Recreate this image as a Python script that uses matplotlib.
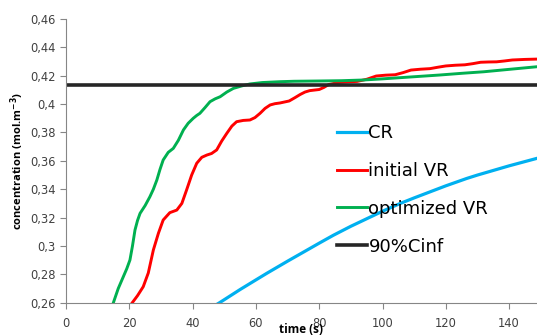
import numpy as np
import matplotlib.pyplot as plt
from matplotlib.ticker import FuncFormatter, MultipleLocator

# time (s) and concentration (mol.m-3) for each reactor
t_cr = [40, 48.5, 55, 60, 63.4, 70, 80, 84.5, 90, 100, 105.5, 110, 120, 126.6, 130, 140, 150]
c_cr = [0.2485, 0.2600, 0.2693, 0.2761, 0.2807, 0.2893, 0.3020, 0.3076, 0.3139, 0.3245,
        0.3299, 0.3339, 0.3424, 0.3476, 0.3500, 0.3565, 0.3625]

t_init = [19, 20.8, 22.6, 24.4, 26.0, 27.6, 29.2, 30.7, 32.8, 35.0, 36.6, 38.1, 39.7, 41.3,
          42.9, 44.5, 46.0, 47.6, 49.2, 50.8, 52.4, 53.9, 56.0, 58.1, 59.7, 61.3, 62.9, 64.5,
          66.0, 67.6, 70.5, 72.3, 74.0, 75.5, 77.0, 80.0, 81.5, 83.0, 86.0, 89.0, 92.0, 95.0,
          98.0, 101.0, 104.0, 106.5, 109.0, 112.0, 115.0, 117.5, 120.0, 123.0, 126.0, 128.5,
          131.0, 133.5, 136.0, 138.5, 141.0, 145.0, 150.0]
c_init = [0.2530, 0.2596, 0.2650, 0.2713, 0.2810, 0.2972, 0.3090, 0.3183, 0.3235, 0.3253,
          0.3300, 0.3395, 0.3500, 0.3583, 0.3625, 0.3641, 0.3652, 0.3677, 0.3740, 0.3794,
          0.3845, 0.3876, 0.3885, 0.3888, 0.3905, 0.3935, 0.3970, 0.3994, 0.4003, 0.4008,
          0.4022, 0.4045, 0.4068, 0.4085, 0.4095, 0.4103, 0.4118, 0.4138, 0.4152, 0.4157,
          0.4160, 0.4175, 0.4198, 0.4204, 0.4207, 0.4222, 0.4240, 0.4246, 0.4250, 0.4260,
          0.4269, 0.4274, 0.4277, 0.4285, 0.4295, 0.4297, 0.4298, 0.4304, 0.4311, 0.4315,
          0.4318]

t_opt = [13.5, 14.9, 16.5, 18.1, 19.2, 20.2, 21.0, 21.8, 22.6, 23.4, 25.0, 26.5, 27.6, 28.7,
         29.7, 30.7, 32.3, 33.9, 35.5, 37.1, 38.6, 40.2, 41.3, 42.3, 43.9, 45.5, 47.1, 48.7,
         50.8, 52.9, 55.5, 58.1, 62.0, 67.6, 72.0, 80.0, 87.0, 94.0, 100.0, 110.0, 118.0,
         125.0, 132.0, 140.0, 150.0]
c_opt = [0.2500, 0.2596, 0.2700, 0.2783, 0.2840, 0.2901, 0.3000, 0.3113, 0.3180, 0.3230,
         0.3285, 0.3347, 0.3400, 0.3465, 0.3540, 0.3606, 0.3660, 0.3688, 0.3745, 0.3818,
         0.3865, 0.3900, 0.3920, 0.3935, 0.3975, 0.4017, 0.4037, 0.4052, 0.4085, 0.4111,
         0.4128, 0.4142, 0.4152, 0.4158, 0.4161, 0.4163, 0.4165, 0.4170, 0.4178, 0.4193,
         0.4205, 0.4217, 0.4228, 0.4245, 0.4266]

t_lim = [0, 150]
c_lim = [0.4135, 0.4135]

plt.rcParams['font.family'] = ['DejaVu Sans']

fig = plt.figure(figsize=(5.37, 3.36), dpi=100)
ax = fig.add_axes([0.1229, 0.099, 0.8771, 0.8445])

ax.plot(t_cr, c_cr, color='#00B0F0', lw=2.3, label='CR', solid_joinstyle='round')
ax.plot(t_init, c_init, color='#FF0000', lw=2.1, label='initial VR', solid_joinstyle='round')
ax.plot(t_opt, c_opt, color='#00B050', lw=2.1, label='optimized VR', solid_joinstyle='round')
ax.plot(t_lim, c_lim, color='#262626', lw=2.6, label='90%Cinf')

ax.set_xlim(0, 148.8)
ax.set_ylim(0.26, 0.46)
ax.xaxis.set_major_locator(MultipleLocator(20))
ax.yaxis.set_major_locator(MultipleLocator(0.02))


def comma(v, pos):
    s = f'{v:.2f}'.rstrip('0').rstrip('.')
    return s.replace('.', ',')


ax.yaxis.set_major_formatter(FuncFormatter(comma))
ax.xaxis.set_major_formatter(FuncFormatter(lambda v, p: f'{v:.0f}'))

for side in ('top', 'right'):
    ax.spines[side].set_visible(False)
for side in ('left', 'bottom'):
    ax.spines[side].set_color('#868686')
    ax.spines[side].set_linewidth(0.8)
ax.tick_params(colors='#868686', labelcolor='#404040', labelsize=8.3, length=4, width=0.8)
ax.tick_params(axis='x', pad=6)

ax.set_xlabel('time (s)', fontsize=8.5, fontweight='bold', labelpad=-5, family='Open Sans')
ax.set_ylabel('concentration (mol.m$^{\\mathbf{-3}}$)', fontsize=8, fontweight='bold',
              labelpad=3, family='Open Sans')

ax.legend(loc='upper left', bbox_to_anchor=(0.575, 0.63), frameon=False, fontsize=13,
          handlelength=1.65, handletextpad=0.1, labelspacing=1.1, borderpad=0, borderaxespad=0)

fig.savefig('out.png', dpi=100)
